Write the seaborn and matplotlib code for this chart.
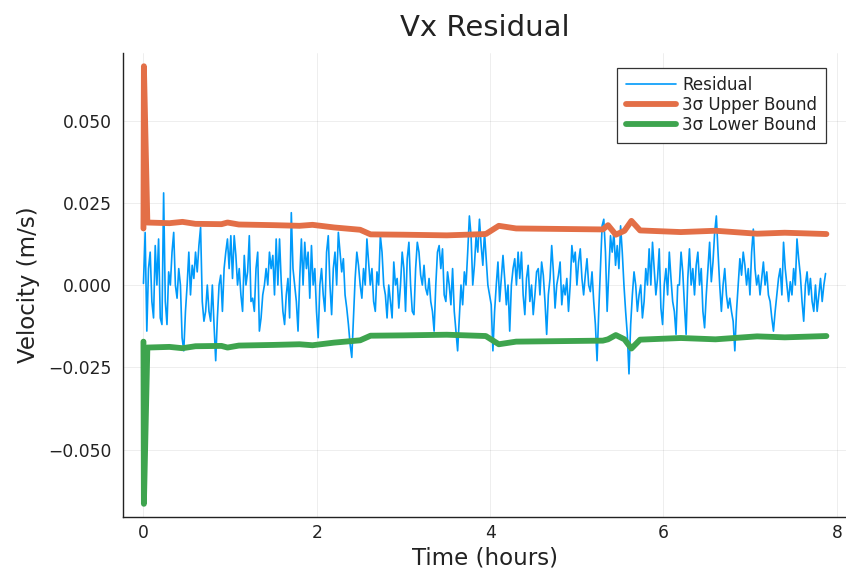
import numpy as np
import pandas as pd
import matplotlib
matplotlib.use("Agg")
import matplotlib.pyplot as plt
from matplotlib.ticker import FuncFormatter
import seaborn as sns

# ---- data (velocity values in mm/s, converted to m/s when plotted) ----
t_end_hours = 7.87
residual_mms = [
    0.5, 16, -14, 5, 10, -5, -10, 12, 0, 14, -10, -12, 28, -5, -12, 4, 0, 10, 16, 0, -4, 5, 0, -16, -20, -8,
    0, 10, -3, 6, 2, 10, 4, 12, 17.5, -5, -11, -8, 0, -8, -11, 0, -12, -23, -10, 0, 3, -8, 5, 10, 14, 5,
    15, 2, 15, 9, 0, 5, -3, -8, 9, 0, 4, 15, -5, -4, -8, 5, 10, -14, -10, -3, 0, 5, 0, 10, 5,
    9, -3, 14, 0, 14, 1, -8, -12, -3, 2, -10, 22, 5, 0, -5, -14, 2, 14, 0, 13, 5, 10, -4, 12, 0, 5, -8,
    -16, 0, 5, -3, -8, 10, 15, 0, -9, 5, 10, 0, 16, 10, 4, 8, -3, -7, -12, -18, -22, -10, 2, 10, 6, 0,
    -4, 5, 0, 14, 7, 0, 5, -5, -8, 4, 0, 15, 10, 0, -3, -10, 0, -5, -10, 7, 0, 2, -7, 0, 10, 5, -8,
    8, 13, 0, -8, -9, 5, 13, 10, 3, 0, 6, -1, -3, 2, -5, -8, -14, 0, 10, 12, 5, 11, -3, -5, 4, 0, -6,
    5, -8, -14, -20, -10, 0, -6, 4, 0, 10, 21, 15, 0, 6, 15, 10, 20, 12, 6, 16, 8, 0, -3, -6, -20, -8,
    0, 7, -5, 2, 9, 2, -6, 0, -14, 0, 5, 8, 0, 10, 2, 10, -3, -9, 2, 6, -5, 0, -9, -3, 4, 5, -3, 7,
    3, -5, -15, -3, 2, 12, 4, -7, 0, 3, 7, -6, 0, -3, 2, -8, 0, 12, 7, 10, 0, 7, 11, 2, -3, 3, 8, 0,
    -2, 4, -5, -12, -23, -8, 5, 18, 20, 10, -8, 4, 15, 10, 16, 6, 12, 5, 18, 10, 0, -8, -15, -27, -12,
    -3, 4, 0, -8, -3, 0, -10, -5, 5, 0, 11, 0, 13, 5, -3, 2, 11, -7, -12, 0, 5, -3, 10, 2, -5, -8, -15, 0,
    0, 10, 4, -6, -15, 2, 11, 0, 5, -3, 6, 10, 0, 5, -8, -13, -3, 5, 13, 1, 7, 16, 21, 10, 0, -8, 0, 5,
    -3, -7, -4, -8, -11, -20, -8, 0, 8, 3, 10, 6, 0, 5, -3, 10, 17, 5, 0, 3, -3, 2, 7, 0, 4, -3, -5,
    -10, -14, -8, -3, 2, 5, -3, 13, 5, 0, -5, 1, -3, 5, 0, 14, 8, 3, -5, -11, 0, 4, -3, 2, -5, -8, 0,
    -8, -3, 2, -5, 0, 3.5,
]
bound_t = [0.0, 0.005, 0.045, 0.3, 0.45, 0.6, 0.9, 0.97, 1.1, 1.5,
           1.8, 1.95, 2.2, 2.5, 2.62, 3.0, 3.5, 3.95, 4.1, 4.3,
           5.3, 5.36, 5.45, 5.55, 5.63, 5.73, 6.2, 6.6, 7.08, 7.4, 7.88]
upper_mms = [17.2, 66.5, 19.0, 18.8, 19.2, 18.6, 18.5, 19.0, 18.4, 18.2,
             18.0, 18.3, 17.5, 16.8, 15.4, 15.3, 15.1, 15.5, 18.0, 17.2,
             16.9, 18.2, 15.3, 16.5, 19.5, 16.6, 16.1, 16.5, 15.6, 15.9, 15.5]
lower_mms = [-17.2, -66.5, -19.0, -18.8, -19.2, -18.6, -18.5, -19.0, -18.4, -18.2,
             -18.0, -18.3, -17.5, -16.8, -15.4, -15.3, -15.1, -15.5, -18.0, -17.2,
             -16.9, -16.5, -15.2, -16.5, -19.3, -16.6, -16.1, -16.5, -15.6, -15.9, -15.5]
x_ticks = [0, 2, 4, 6, 8]
y_ticks = [-0.050, -0.025, 0.0, 0.025, 0.050]

# ---- style ----
sns.set_theme(style="white")
plt.rcParams['font.family'] = ['DejaVu Sans']

fig = plt.figure(figsize=(8.46, 5.77), dpi=100)
ax = fig.add_axes([0.1454, 0.104, 0.8546, 0.804])

df_res = pd.DataFrame({
    "t": np.linspace(0, t_end_hours, len(residual_mms)),
    "v": np.array(residual_mms) * 1e-3,
})
df_up = pd.DataFrame({"t": bound_t, "v": np.array(upper_mms) * 1e-3})
df_lo = pd.DataFrame({"t": bound_t, "v": np.array(lower_mms) * 1e-3})

sns.lineplot(data=df_res, x="t", y="v", ax=ax, color="#009AFA", lw=1.2,
             label="Residual", estimator=None, sort=False, zorder=2)
sns.lineplot(data=df_up, x="t", y="v", ax=ax, color="#E36F47", lw=4.2,
             label="3σ Upper Bound", estimator=None, sort=False, zorder=3,
             solid_capstyle="round", solid_joinstyle="round")
sns.lineplot(data=df_lo, x="t", y="v", ax=ax, color="#3EA44E", lw=4.2,
             label="3σ Lower Bound", estimator=None, sort=False, zorder=3,
             solid_capstyle="round", solid_joinstyle="round")

ax.set_xlim(-0.236, 8.106)
ax.set_ylim(-0.0705, 0.0705)
ax.set_xticks(x_ticks)
ax.set_yticks(y_ticks)
ax.yaxis.set_major_formatter(FuncFormatter(
    lambda v, p: ("%.3f" % v).replace("-", "\u2212") if abs(v) > 1e-9 else "0.000"))
ax.tick_params(direction="in", length=4, width=0.8, colors="#222222",
               labelsize=12.3, labelcolor="#222222")
ax.tick_params(axis="y", pad=8)
ax.tick_params(axis="x", pad=5)

for s in ["top", "right"]:
    ax.spines[s].set_visible(False)
for s in ["left", "bottom"]:
    ax.spines[s].set_color("#222222")
    ax.spines[s].set_linewidth(1.0)

ax.grid(True, color="black", alpha=0.08, lw=0.6)
ax.set_axisbelow(True)

ax.set_title("Vx Residual", fontsize=21, color="#222222", pad=12)
ax.set_xlabel("Time (hours)", fontsize=16.5, color="#222222", labelpad=3)
ax.set_ylabel("Velocity (m/s)", fontsize=16.5, color="#222222", labelpad=6)

leg = ax.legend(loc="upper right", bbox_to_anchor=(0.972, 0.968), borderaxespad=0,
                fancybox=False, framealpha=1, edgecolor="#333333", fontsize=12,
                handlelength=3.0, labelspacing=0.12, borderpad=0.5, handletextpad=0.4)
leg.get_frame().set_linewidth(0.9)
for txt in leg.get_texts():
    txt.set_color("#222222")

fig.savefig("out.png", dpi=100)
